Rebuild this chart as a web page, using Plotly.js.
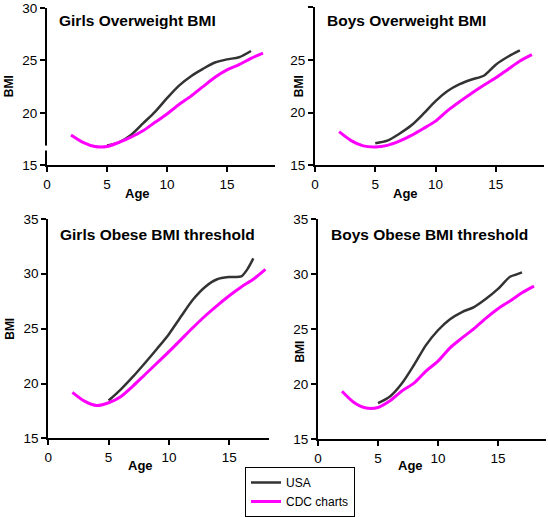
<!DOCTYPE html>
<html><head><meta charset="utf-8">
<script src="https://cdn.plot.ly/plotly-3.0.1.min.js"></script>
<style>body{margin:0;background:#fff}#chart{width:548px;height:517px}</style>
</head><body><div id="chart"></div>
<script>
// Ages
var cdcAge = [2,3,4,5,6,7,8,9,10,11,12,13,14,15,16,17,18];
var usaAge = [5,6,7,8,9,10,11,12,13,14,15,16,17];
var usaAgeObese = [5,6,7,8,9,10,11,12,13,14,15,16,16.5,17];

// Girls overweight
var girlsOwCdc = [17.9,17.2,16.8,16.8,17.2,17.7,18.3,19.1,19.9,20.8,21.6,22.5,23.4,24.1,24.6,25.2,25.7];
var girlsOwUsa = [16.9,17.2,17.9,19.0,20.1,21.4,22.6,23.5,24.2,24.8,25.1,25.3,25.9];
// Boys overweight
var boysOwCdc = [18.2,17.35,16.85,16.75,16.9,17.3,17.85,18.5,19.2,20.2,21.05,21.85,22.6,23.3,24.1,24.9,25.5];
var boysOwUsa = [17.1,17.35,18.0,18.8,19.9,21.1,22.05,22.7,23.15,23.5,24.55,25.3,25.9];
// Girls obese
var girlsObCdc = [19.2,18.4,18.0,18.25,18.8,19.75,20.8,21.85,22.9,24.0,25.1,26.15,27.1,28.0,28.8,29.5,30.4];
var girlsObUsa = [18.45,19.45,20.6,21.85,23.15,24.5,26.1,27.65,28.8,29.5,29.7,29.75,30.4,31.4];
// Boys obese
var boysObCdc = [19.37,18.35,17.85,17.9,18.5,19.4,20.1,21.2,22.1,23.3,24.2,25.05,26.0,26.85,27.55,28.3,28.9];
var boysObUsa = [18.3,18.9,20.1,21.75,23.55,24.9,25.9,26.55,27.0,27.75,28.65,29.75,29.95,30.15];

var titles = ["Girls Overweight BMI","Boys Overweight BMI","Girls Obese BMI threshold","Boys Obese BMI threshold"];
var seriesNames = ["USA","CDC charts"];

var W = 548, H = 517;
function px(x){return x/W;}
function py(y){return 1 - y/H;}

var usaColor = "#333333", cdcColor = "#ff00ff";
var panels = [
  {usaX: usaAge, usa: girlsOwUsa, cdc: girlsOwCdc, xd:[47,275], xr:[0,19], yd:[8,167], yr:[15,30], yt:[15,20,25,30]},
  {usaX: usaAge, usa: boysOwUsa, cdc: boysOwCdc, xd:[315,544], xr:[0,19], yd:[7.3,167], yr:[15,30], yt:[15,20,25,30]},
  {usaX: usaAgeObese, usa: girlsObUsa, cdc: girlsObCdc, xd:[48.3,269], xr:[0,18.3], yd:[221,442.7], yr:[15,35], yt:[15,20,25,30,35]},
  {usaX: usaAgeObese, usa: boysObUsa, cdc: boysObCdc, xd:[318,546], xr:[0,19], yd:[221,443.7], yr:[15,35], yt:[15,20,25,30,35]}
];
var titlePos = [[57,21],[325,21],[58,237],[329,237]];
var agePos = [[137,195],[405,195],[140,470],[410,470]];
var bmiPos = [[9,87],[299,87],[10,332],[300,355]];

var font = "Liberation Sans, Arial, sans-serif";
var data = [], layout = {
  width: W, height: H, margin:{l:0,r:0,t:0,b:0},
  paper_bgcolor:"#fff", plot_bgcolor:"rgba(0,0,0,0)",
  font:{family:font, color:"#000", size:13},
  showlegend:true,
  legend:{x:px(245), y:py(472), xanchor:"left", yanchor:"top", bordercolor:"#000", borderwidth:1,
          bgcolor:"#fff", font:{size:12, family:font}, itemwidth:30, tracegroupgap:0},
  annotations:[], shapes:[]
};
panels.forEach(function(p,i){
  var sx = i===0 ? "" : String(i+1);
  data.push({x:p.usaX, y:p.usa, xaxis:"x"+sx, yaxis:"y"+sx, type:"scatter", mode:"lines",
    line:{color:usaColor, width:2.5, shape:"spline", smoothing:0.8}, name:seriesNames[0], legendgroup:"usa", showlegend:i===0});
  data.push({x:cdcAge, y:p.cdc, xaxis:"x"+sx, yaxis:"y"+sx, type:"scatter", mode:"lines",
    line:{color:cdcColor, width:3, shape:"spline", smoothing:0.8}, name:seriesNames[1], legendgroup:"cdc", showlegend:i===0});
  layout["xaxis"+sx] = {domain:[px(p.xd[0]),px(p.xd[1])], range:p.xr, anchor:"y"+sx, tickvals:[0,5,10,15],
    showline:true, linecolor:"#000", linewidth:2, ticks:"outside", ticklen:5, tickwidth:2, tickcolor:"#000",
    showgrid:false, zeroline:false, tickfont:{size:13.5, family:font}, fixedrange:true};
  layout["yaxis"+sx] = {domain:[py(p.yd[1]),py(p.yd[0])], range:p.yr, anchor:"x"+sx, tickvals:p.yt,
    showline:true, linecolor:"#000", linewidth:2, ticks:"outside", ticklen:5, tickwidth:2, tickcolor:"#000",
    showgrid:false, zeroline:false, tickfont:{size:13.5, family:font}, fixedrange:true};
  layout.annotations.push({xref:"paper", yref:"paper", x:px(titlePos[i][0]), y:py(titlePos[i][1]), xanchor:"left", yanchor:"middle",
    text:"<b>"+titles[i]+"</b>", showarrow:false, font:{size:15.5, family:font}});
  layout.annotations.push({xref:"paper", yref:"paper", x:px(agePos[i][0]), y:py(agePos[i][1]), xanchor:"center", yanchor:"middle",
    text:"<b>Age</b>", showarrow:false, font:{size:13, family:font}});
  layout.annotations.push({xref:"paper", yref:"paper", x:px(bmiPos[i][0]), y:py(bmiPos[i][1]), xanchor:"center", yanchor:"middle",
    text:"<b>BMI</b>", showarrow:false, textangle:-90, font:{size:12, family:font}});
});
// axis break mark on first panel
layout.shapes.push({type:"rect", xref:"paper", yref:"paper", x0:px(44), x1:px(50), y0:py(152), y1:py(147),
  fillcolor:"#fff", line:{width:0}, layer:"above"});

Plotly.newPlot("chart", data, layout, {staticPlot:true, displayModeBar:false});
</script>
</body></html>
